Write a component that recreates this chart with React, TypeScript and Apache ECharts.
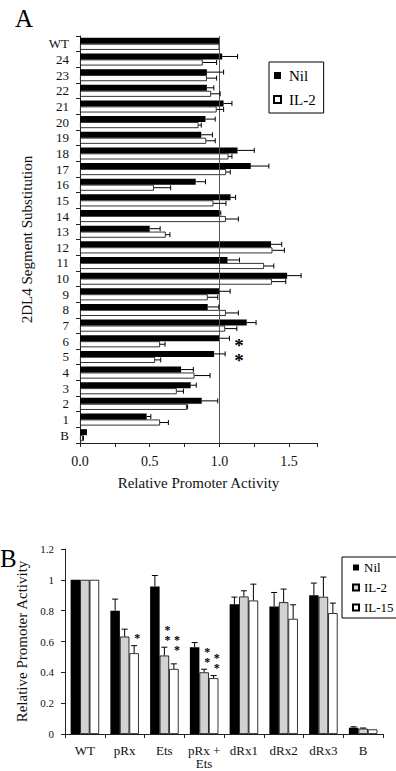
import React, { useEffect, useRef } from 'react';
import * as echarts from 'echarts';

// ---------- Panel A data ----------
const aCategories = ['WT', '24', '23', '22', '21', '20', '19', '18', '17', '16', '15', '14', '13', '12', '11', '10', '9', '8', '7', '6', '5', '4', '3', '2', '1', 'B'];
const aNil = [1.0, 1.02, 0.91, 0.91, 1.03, 0.9, 0.87, 1.13, 1.225, 0.83, 1.08, 1.0, 0.5, 1.37, 1.058, 1.486, 1.0, 0.916, 1.196, 1.0, 0.962, 0.725, 0.794, 0.873, 0.478, 0.05];
const aNilErr = [0, 0.11, 0.12, 0.05, 0.06, 0.07, 0.08, 0.12, 0.13, 0.07, 0.036, 0.01, 0.075, 0.077, 0.086, 0.1, 0.077, 0.08, 0.067, 0.072, 0.079, 0.088, 0.04, 0.115, 0.03, 0];
const aIL2 = [1.0, 0.88, 0.91, 0.94, 0.98, 0.85, 0.905, 1.065, 1.048, 0.53, 0.957, 1.046, 0.615, 1.38, 1.32, 1.376, 0.916, 1.046, 1.041, 0.574, 0.538, 0.821, 0.694, 0.766, 0.574, 0.02];
const aIL2Err = [0, 0.1, 0.07, 0.065, 0.05, 0.02, 0.065, 0.025, 0.03, 0.12, 0.09, 0.09, 0.03, 0.086, 0.07, 0.1, 0.072, 0.09, 0.084, 0.036, 0.041, 0.112, 0.048, 0.006, 0.06, 0.005];
const aStarRows = ['6', '5'];
const aStarValue = 1.14;
const aSeriesNames = ['Nil', 'IL-2'];

// ---------- Panel B data ----------
const bCategories = ['WT', 'pRx', 'Ets', 'pRx +\nEts', 'dRx1', 'dRx2', 'dRx3', 'B'];
const bNil = [1.0, 0.8, 0.957, 0.563, 0.842, 0.827, 0.9, 0.041];
const bNilErr = [0, 0.075, 0.071, 0.03, 0.046, 0.091, 0.079, 0.006];
const bIL2 = [1.0, 0.632, 0.509, 0.4, 0.892, 0.855, 0.89, 0.035];
const bIL2Err = [0, 0.048, 0.054, 0.02, 0.037, 0.085, 0.128, 0.004];
const bIL15 = [1.0, 0.524, 0.422, 0.362, 0.866, 0.747, 0.784, 0.03];
const bIL15Err = [0, 0.049, 0.033, 0.017, 0.106, 0.091, 0.065, 0];
// significance marks: [category index, series index, value of top star, number of stars]
const bStars = [[1, 2, 0.643, 1], [2, 1, 0.697, 2], [2, 2, 0.628, 2], [3, 1, 0.55, 2], [3, 2, 0.513, 2]];
const bSeriesNames = ['Nil', 'IL-2', 'IL-15'];

const SERIF = 'Liberation Serif';
const A_BAR = 6;
const B_BAR = 9.5;

function hErrSeries(vals: number[], errs: number[], offset: number) {
  return {
    type: 'custom',
    xAxisIndex: 0,
    yAxisIndex: 0,
    silent: true,
    z: 5,
    encode: { x: [0, 2], y: 1 },
    data: vals.map((v, i) => [v, i, v + errs[i]]).filter((d) => d[2] > d[0]),
    renderItem: (params: any, api: any) => {
      const v = api.value(0);
      const idx = api.value(1);
      const hi = api.value(2);
      const p0 = api.coord([v, idx]);
      const p1 = api.coord([hi, idx]);
      const y = p0[1] + offset;
      const st = { stroke: '#000', lineWidth: 1 };
      return {
        type: 'group',
        children: [
          { type: 'line', shape: { x1: p0[0], y1: y, x2: p1[0], y2: y }, style: st },
          { type: 'line', shape: { x1: p1[0], y1: y - 2.5, x2: p1[0], y2: y + 2.5 }, style: st },
        ],
      };
    },
  };
}

function vErrSeries(vals: number[], errs: number[], offset: number) {
  return {
    type: 'custom',
    xAxisIndex: 1,
    yAxisIndex: 1,
    silent: true,
    z: 5,
    encode: { x: 0, y: [1, 2] },
    data: vals.map((v, i) => [i, v, v + errs[i]]).filter((d) => d[2] > d[1]),
    renderItem: (params: any, api: any) => {
      const idx = api.value(0);
      const v = api.value(1);
      const hi = api.value(2);
      const p0 = api.coord([idx, v]);
      const p1 = api.coord([idx, hi]);
      const x = p0[0] + offset;
      const st = { stroke: '#000', lineWidth: 1 };
      return {
        type: 'group',
        children: [
          { type: 'line', shape: { x1: x, y1: p0[1], x2: x, y2: p1[1] }, style: st },
          { type: 'line', shape: { x1: x - 3, y1: p1[1], x2: x + 3, y2: p1[1] }, style: st },
        ],
      };
    },
  };
}

export default function App() {
  const ref = useRef<HTMLDivElement>(null);
  useEffect(() => {
    if (!ref.current) return;
    const chart = echarts.init(ref.current, null, { renderer: 'svg' });
    const axisLine = { show: true, lineStyle: { color: '#222', width: 1 } };
    const option: any = {
      animation: false,
      backgroundColor: '#fff',
      textStyle: { fontFamily: SERIF },
      grid: [
        { left: 80, top: 36, width: 237, height: 407 },
        { left: 65, top: 549, width: 318, height: 185 },
      ],
      xAxis: [
        {
          type: 'value',
          gridIndex: 0,
          min: 0,
          max: 1.7,
          interval: 0.25,
          axisLine,
          axisTick: { show: true, length: 4, lineStyle: { color: '#222' } },
          splitLine: { show: false },
          axisLabel: {
            fontFamily: SERIF,
            fontSize: 14,
            color: '#111',
            margin: 11,
            formatter: (v: number) => {
              const d = v * 2;
              return Math.abs(d - Math.round(d)) < 1e-6 && v <= 1.5 ? v.toFixed(1) : '';
            },
          },
          name: 'Relative Promoter Activity',
          nameLocation: 'middle',
          nameGap: 32,
          nameTextStyle: { fontFamily: SERIF, fontSize: 15, color: '#111' },
        },
        {
          type: 'category',
          gridIndex: 1,
          data: bCategories,
          axisLine,
          axisTick: { show: true, length: 4, lineStyle: { color: '#222' } },
          axisLabel: { fontFamily: SERIF, fontSize: 13, color: '#111', margin: 10, lineHeight: 13, interval: 0 },
        },
      ],
      yAxis: [
        {
          type: 'category',
          gridIndex: 0,
          inverse: true,
          data: aCategories,
          axisLine,
          axisTick: { show: true, length: 4, lineStyle: { color: '#222' } },
          axisLabel: { fontFamily: SERIF, fontSize: 13, color: '#111', margin: 11, interval: 0 },
          name: '2DL4 Segment Substitution',
          nameLocation: 'middle',
          nameRotate: 90,
          nameGap: 46,
          nameTextStyle: { fontFamily: SERIF, fontSize: 15, color: '#111' },
        },
        {
          type: 'value',
          gridIndex: 1,
          min: 0,
          max: 1.2,
          interval: 0.2,
          axisLine,
          axisTick: { show: true, length: 4, lineStyle: { color: '#222' } },
          splitLine: { show: false },
          axisLabel: {
            fontFamily: SERIF,
            fontSize: 11,
            color: '#111',
            margin: 11,
            formatter: (v: number) => (Math.abs(v - Math.round(v)) < 1e-6 ? String(Math.round(v)) : v.toFixed(1)),
          },
          name: 'Relative Promoter Activity',
          nameLocation: 'middle',
          nameRotate: 90,
          nameGap: 29,
          nameTextStyle: { fontFamily: SERIF, fontSize: 15, color: '#111' },
        },
      ],
      legend: [
        {
          left: 269,
          top: 62,
          orient: 'vertical',
          data: aSeriesNames.map((n) => 'A:' + n),
          formatter: (n: string) => n.slice(2),
          borderColor: '#000',
          borderWidth: 1,
          padding: [6, 8, 6, 4],
          itemWidth: 7,
          itemHeight: 7,
          itemGap: 9,
          icon: 'rect',
          selectedMode: false,
          textStyle: { fontFamily: SERIF, fontSize: 15, color: '#000', lineHeight: 15, padding: [0, 0, 0, 3] },
        },
        {
          left: 342,
          top: 557,
          orient: 'vertical',
          data: bSeriesNames.map((n) => 'B:' + n),
          formatter: (n: string) => n.slice(2),
          borderColor: '#000',
          borderWidth: 1,
          padding: [4, 8, 4, 10],
          itemWidth: 6,
          itemHeight: 6,
          itemGap: 7,
          icon: 'rect',
          selectedMode: false,
          textStyle: { fontFamily: SERIF, fontSize: 13, color: '#000', lineHeight: 13, padding: [0, 0, 0, 0] },
        },
      ],
      graphic: [
        { type: 'text', x: 15, y: 6, style: { text: 'A', font: '25px "Liberation Serif"', fill: '#000' } },
        { type: 'text', x: 0, y: 546, style: { text: 'B', font: '25px "Liberation Serif"', fill: '#000' } },
      ],
      series: [
        {
          name: 'A:' + aSeriesNames[0],
          type: 'bar',
          xAxisIndex: 0,
          yAxisIndex: 0,
          data: aNil,
          barWidth: A_BAR,
          barGap: '0%',
          itemStyle: { color: '#000' },
          markLine: {
            silent: true,
            symbol: 'none',
            label: { show: false },
            lineStyle: { color: '#555', width: 1, type: 'solid' },
            data: [{ xAxis: 1 }],
          },
        },
        {
          name: 'A:' + aSeriesNames[1],
          type: 'bar',
          xAxisIndex: 0,
          yAxisIndex: 0,
          data: aIL2,
          barWidth: A_BAR,
          barGap: '0%',
          itemStyle: { color: '#fff', borderColor: '#000', borderWidth: 0.8 },
        },
        hErrSeries(aNil, aNilErr, -A_BAR / 2),
        hErrSeries(aIL2, aIL2Err, A_BAR / 2),
        {
          type: 'custom',
          xAxisIndex: 0,
          yAxisIndex: 0,
          silent: true,
          z: 6,
          encode: { x: 0, y: 1 },
          data: aStarRows.map((r) => [aStarValue, aCategories.indexOf(r)]),
          renderItem: (params: any, api: any) => {
            const p = api.coord([api.value(0), api.value(1)]);
            return {
              type: 'text',
              x: p[0],
              y: p[1] + 4,
              style: { text: '*', font: 'bold 19px "Liberation Serif"', fill: '#000', align: 'center', verticalAlign: 'middle' },
            };
          },
        },
        {
          name: 'B:' + bSeriesNames[0],
          type: 'bar',
          xAxisIndex: 1,
          yAxisIndex: 1,
          data: bNil,
          barWidth: B_BAR,
          barGap: '0%',
          itemStyle: { color: '#000' },
        },
        {
          name: 'B:' + bSeriesNames[1],
          type: 'bar',
          xAxisIndex: 1,
          yAxisIndex: 1,
          data: bIL2,
          barWidth: B_BAR,
          barGap: '0%',
          itemStyle: { color: '#d2d2d2', borderColor: '#000', borderWidth: 0.8 },
        },
        {
          name: 'B:' + bSeriesNames[2],
          type: 'bar',
          xAxisIndex: 1,
          yAxisIndex: 1,
          data: bIL15,
          barWidth: B_BAR,
          barGap: '0%',
          itemStyle: { color: '#fff', borderColor: '#000', borderWidth: 0.8 },
        },
        vErrSeries(bNil, bNilErr, -B_BAR),
        vErrSeries(bIL2, bIL2Err, 0),
        vErrSeries(bIL15, bIL15Err, B_BAR),
        {
          type: 'custom',
          xAxisIndex: 1,
          yAxisIndex: 1,
          silent: true,
          z: 6,
          encode: { x: 0, y: 2 },
          data: bStars,
          renderItem: (params: any, api: any) => {
            const p = api.coord([api.value(0), api.value(2)]);
            const s = api.value(1);
            const n = api.value(3);
            const txt = new Array(n).fill('*').join('\n');
            return {
              type: 'text',
              x: p[0] + (s - 1) * B_BAR + 3,
              y: p[1] - 2,
              style: { text: txt, font: 'bold 12px "Liberation Serif"', lineHeight: 10, fill: '#000', align: 'center', verticalAlign: 'top' },
            };
          },
        },
      ],
    };
    chart.setOption(option);
    return () => chart.dispose();
  }, []);
  return <div ref={ref} style={{ position: 'absolute', left: 0, top: 0, width: 396, height: 771, background: '#fff' }} />;
}
